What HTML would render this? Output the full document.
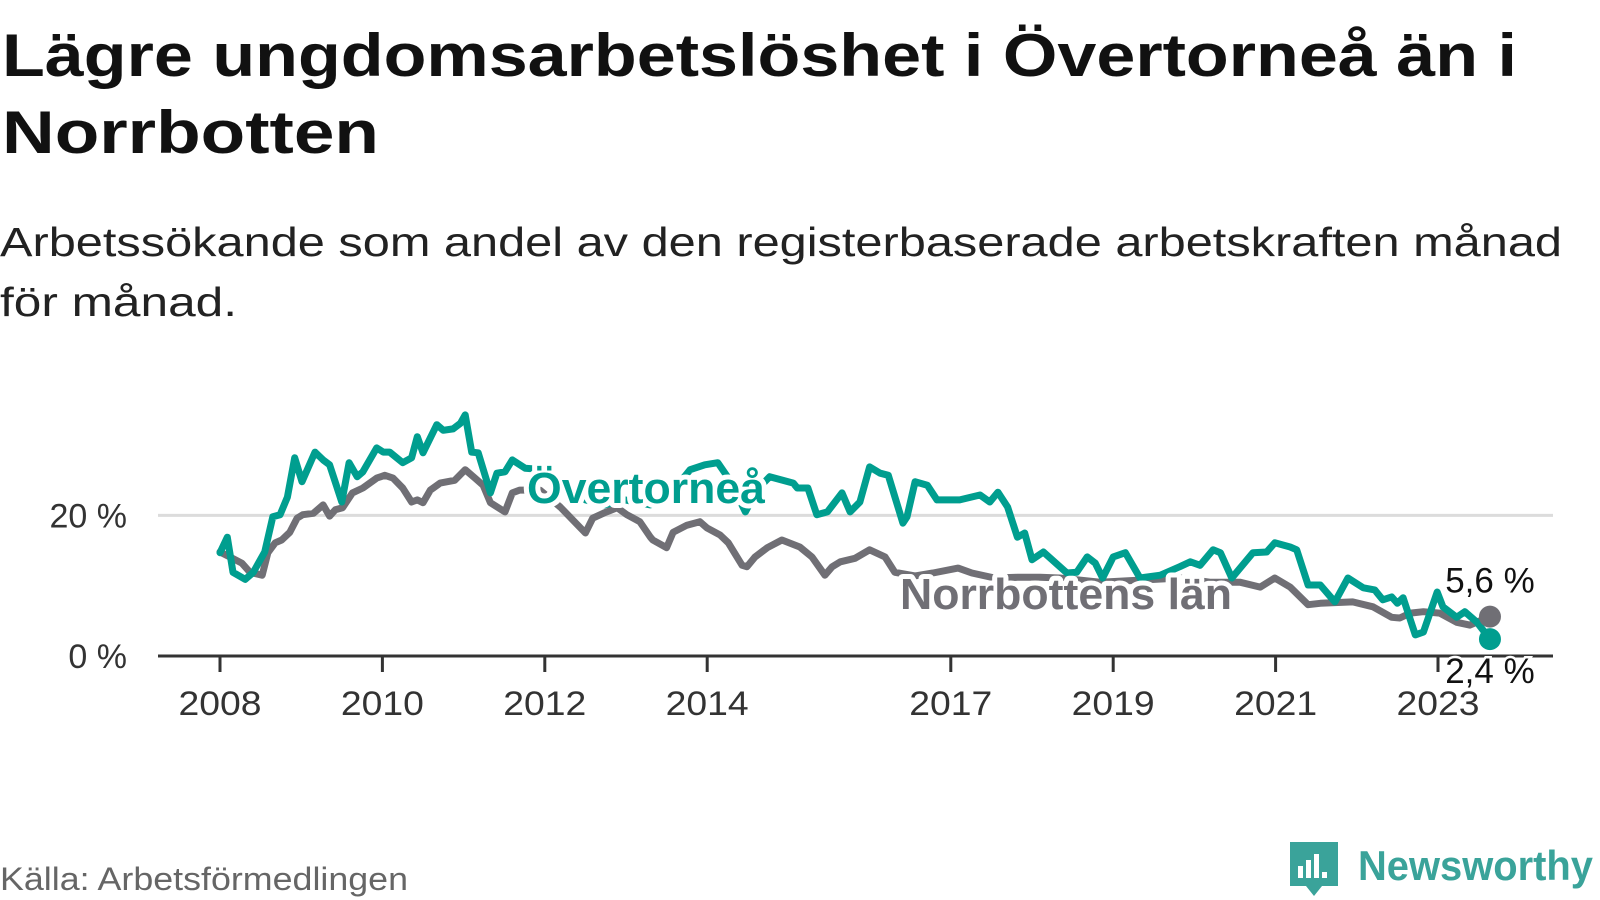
<!DOCTYPE html>
<html><head><meta charset="utf-8">
<style>
html,body{margin:0;padding:0;background:#fff;}
svg{display:block;font-family:"Liberation Sans","DejaVu Sans",sans-serif;}
</style></head>
<body>
<svg id="chart" width="1600" height="900" viewBox="0 0 1600 900" xmlns="http://www.w3.org/2000/svg">
  <text x="2" y="76" font-size="60" font-weight="bold" fill="#111" textLength="1515" lengthAdjust="spacingAndGlyphs">Lägre ungdomsarbetslöshet i Övertorneå än i</text>
  <text x="2" y="153" font-size="60" font-weight="bold" fill="#111" textLength="377" lengthAdjust="spacingAndGlyphs">Norrbotten</text>
  <text x="0" y="256" font-size="41" fill="#222" textLength="1562" lengthAdjust="spacingAndGlyphs">Arbetssökande som andel av den registerbaserade arbetskraften månad</text>
  <text x="0" y="316" font-size="41" fill="#222" textLength="237" lengthAdjust="spacingAndGlyphs">för månad.</text>
  <g id="plot"></g>
  <text x="0" y="890" font-size="32" fill="#666" textLength="408" lengthAdjust="spacingAndGlyphs">Källa: Arbetsförmedlingen</text>
  <g>
    <path d="M1290 842 h48 v44 h-16 l-8 10 l-8 -10 h-16 z" fill="#3aa39a"/>
    <rect x="1298" y="866" width="5" height="12" fill="#fff"/>
    <rect x="1306" y="860" width="5" height="18" fill="#fff"/>
    <rect x="1314" y="854" width="5" height="24" fill="#fff"/>
    <rect x="1322" y="872" width="5" height="6" fill="#fff"/>
    <text x="1358" y="880" font-size="42" font-weight="bold" fill="#3aa39a" textLength="235" lengthAdjust="spacingAndGlyphs">Newsworthy</text>
  </g>
</svg>
<script>
const yearsOv = [2008.0,2008.09,2008.16,2008.31,2008.41,2008.55,2008.65,2008.74,2008.83,2008.92,2009.01,2009.17,2009.27,2009.35,2009.5,2009.59,2009.69,2009.76,2009.93,2010.01,2010.09,2010.25,2010.36,2010.43,2010.5,2010.67,2010.75,2010.87,2010.96,2011.02,2011.1,2011.18,2011.33,2011.41,2011.51,2011.6,2011.76,2012.0,2012.25,2012.5,2012.74,2012.99,2013.3,2013.54,2013.79,2013.97,2014.13,2014.28,2014.47,2014.61,2014.77,2014.93,2015.06,2015.11,2015.24,2015.35,2015.48,2015.66,2015.76,2015.88,2016.0,2016.13,2016.23,2016.41,2016.46,2016.56,2016.71,2016.83,2017.11,2017.36,2017.48,2017.58,2017.7,2017.82,2017.91,2018.0,2018.14,2018.43,2018.55,2018.68,2018.78,2018.87,2019.0,2019.15,2019.33,2019.58,2019.82,2019.95,2020.07,2020.23,2020.32,2020.46,2020.72,2020.89,2020.99,2021.18,2021.26,2021.4,2021.55,2021.73,2021.89,2022.08,2022.22,2022.32,2022.43,2022.5,2022.57,2022.72,2022.82,2022.99,2023.06,2023.23,2023.33,2023.48,2023.64];
const valuesOv = [14.7,16.9,11.9,10.9,11.9,14.8,19.8,20.1,22.6,28.2,24.8,29.0,27.9,27.2,21.9,27.5,25.5,26.2,29.6,29.0,29.0,27.5,28.2,31.2,28.9,32.9,32.1,32.3,33.1,34.3,29.0,28.9,23.2,26.0,26.2,27.9,26.7,26.5,23.6,22.2,21.5,22.2,21.5,22.9,26.5,27.2,27.5,25.0,20.5,23.6,25.5,25.0,24.6,23.9,23.9,20.1,20.5,23.2,20.5,21.9,26.9,26.0,25.7,18.9,19.8,24.8,24.3,22.2,22.2,22.9,21.9,23.3,21.2,16.9,17.5,13.7,14.8,11.8,11.9,14.1,13.2,11.1,14.1,14.7,11.1,11.5,12.7,13.4,12.9,15.1,14.7,11.1,14.7,14.8,16.1,15.5,15.1,10.1,10.1,7.7,11.1,9.7,9.4,8.0,8.4,7.5,8.3,3.0,3.4,9.1,7.0,5.5,6.3,4.8,2.4];
const yearsNb = [2008.0,2008.12,2008.27,2008.37,2008.52,2008.59,2008.68,2008.76,2008.86,2008.95,2009.02,2009.15,2009.27,2009.35,2009.42,2009.51,2009.63,2009.76,2009.93,2010.03,2010.13,2010.25,2010.36,2010.43,2010.5,2010.59,2010.71,2010.89,2011.02,2011.14,2011.24,2011.33,2011.51,2011.6,2011.69,2011.94,2012.19,2012.5,2012.59,2012.72,2012.89,2013.01,2013.17,2013.3,2013.33,2013.5,2013.58,2013.75,2013.91,2014.0,2014.16,2014.26,2014.43,2014.49,2014.59,2014.74,2014.92,2015.14,2015.29,2015.45,2015.54,2015.64,2015.82,2016.0,2016.19,2016.31,2016.56,2016.78,2017.09,2017.26,2017.54,2017.82,2018.1,2018.34,2018.84,2019.33,2019.82,2020.19,2020.56,2020.81,2020.99,2021.18,2021.4,2021.55,2021.95,2022.2,2022.43,2022.53,2022.66,2022.82,2023.02,2023.23,2023.39,2023.64];
const valuesNb = [14.8,14.1,13.2,11.9,11.5,14.7,16.1,16.5,17.6,19.6,20.1,20.3,21.5,19.9,20.8,21.1,23.2,23.9,25.3,25.7,25.3,23.9,21.9,22.2,21.8,23.6,24.6,25.0,26.5,25.3,24.3,21.8,20.5,23.2,23.6,23.6,21.2,17.5,19.6,20.3,21.1,20.1,19.1,16.9,16.5,15.4,17.6,18.6,19.1,18.2,17.2,16.1,12.9,12.7,14.1,15.4,16.5,15.5,14.1,11.5,12.7,13.4,13.9,15.1,14.1,11.9,11.4,11.8,12.5,11.8,11.1,11.2,11.2,11.1,10.5,10.8,11.1,10.5,10.5,9.8,11.1,9.8,7.3,7.5,7.7,7.0,5.5,5.4,6.1,6.3,6.1,4.8,4.4,5.6];
const xTickYears = [2008,2010,2012,2014,2017,2019,2021,2023];
const yTicks = [0,20];
const yTickLabels = ["0 %","20 %"];

const NS="http://www.w3.org/2000/svg";
const plot=document.getElementById('plot');
const X0=158,X1=1553;
function xScale(yr){return 220+81.2*(yr-2008);}
function yScale(v){return 656-7.03*v;}
function mk(tag,attrs,parent){const e=document.createElementNS(NS,tag);for(const k in attrs)e.setAttribute(k,attrs[k]);(parent||plot).appendChild(e);return e;}

yTicks.forEach((t,i)=>{
  if(t!==0){
    const g=mk('line',{x1:X0,x2:X1,y1:yScale(t),y2:yScale(t),stroke:'#dcdcdc','stroke-width':3});
    
    
  }
  const lb=mk('text',{x:127,y:yScale(t)+12,'font-size':34,fill:'#333','text-anchor':'end'});
  lb.textContent=yTickLabels[i];
  
  
});
xTickYears.forEach(yr=>{
  const tk=mk('line',{x1:xScale(yr),x2:xScale(yr),y1:656,y2:672,stroke:'#333','stroke-width':3});
  
  
  const lb=mk('text',{x:xScale(yr),y:715,'font-size':34,fill:'#333','text-anchor':'middle',textLength:83,lengthAdjust:'spacingAndGlyphs'});
  lb.textContent=String(yr);
  
  
});

function pathFor(xs,vs){return xs.map((yr,i)=>(i?'L':'M')+xScale(yr).toFixed(1)+' '+yScale(vs[i]).toFixed(1)).join(' ');}
const nb=mk('path',{d:pathFor(yearsNb,valuesNb),fill:'none',stroke:'#706f75','stroke-width':7,'stroke-linejoin':'round','stroke-linecap':'round'});


const ov=mk('path',{d:pathFor(yearsOv,valuesOv),fill:'none',stroke:'#009e8f','stroke-width':7,'stroke-linejoin':'round','stroke-linecap':'round'});



const axis=mk('line',{x1:X0,x2:X1,y1:656,y2:656,stroke:'#333','stroke-width':3});



const lo=mk('text',{x:527,y:503,'font-size':44,'font-weight':'bold',fill:'#009e8f',stroke:'#fff','stroke-width':10,'paint-order':'stroke','stroke-linejoin':'round',textLength:238,lengthAdjust:'spacingAndGlyphs'});
lo.textContent='Övertorneå';


const ln=mk('text',{x:900,y:609,'font-size':44,'font-weight':'bold',fill:'#706f75',stroke:'#fff','stroke-width':10,'paint-order':'stroke','stroke-linejoin':'round',textLength:332,lengthAdjust:'spacingAndGlyphs'});
ln.textContent='Norrbottens län';



const lastNb=valuesNb.length-1, lastOv=valuesOv.length-1;
const d1=mk('circle',{cx:xScale(yearsNb[lastNb]),cy:yScale(valuesNb[lastNb]),r:11,fill:'#706f75'});


const d2=mk('circle',{cx:xScale(yearsOv[lastOv]),cy:yScale(valuesOv[lastOv]),r:11,fill:'#009e8f'});


const v1=mk('text',{x:xScale(yearsNb[lastNb]),y:yScale(valuesNb[lastNb])-24,'font-size':35,fill:'#111','text-anchor':'middle',stroke:'#fff','stroke-width':5,'paint-order':'stroke'});
v1.textContent=valuesNb[lastNb].toFixed(1).replace('.',',')+' %';


const v2=mk('text',{x:xScale(yearsOv[lastOv]),y:yScale(valuesOv[lastOv])+44,'font-size':35,fill:'#111','text-anchor':'middle',stroke:'#fff','stroke-width':5,'paint-order':'stroke'});
v2.textContent=valuesOv[lastOv].toFixed(1).replace('.',',')+' %';


</script>
</body></html>
